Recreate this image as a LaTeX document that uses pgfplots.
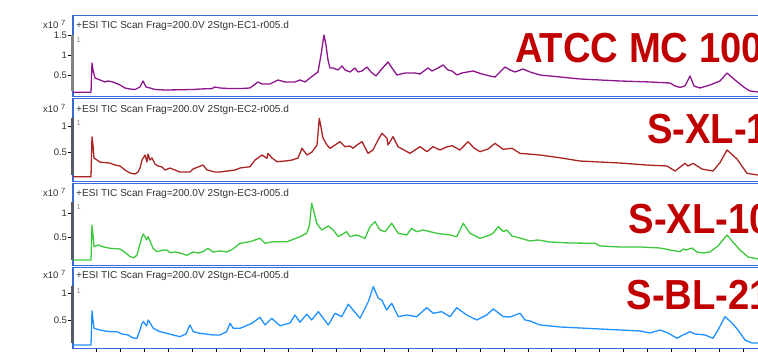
\documentclass[border=0pt]{standalone}
\usepackage{pgfplots}
\pgfplotsset{compat=1.18}
\usepackage{fontspec}
\setmainfont{Liberation Sans}
\usepackage{graphicx}
\definecolor{frameblue}{RGB}{55,105,215}
\definecolor{cpurple}{RGB}{140,20,140}
\definecolor{cred}{RGB}{170,35,35}
\definecolor{cgreen}{RGB}{60,200,60}
\definecolor{cblue}{RGB}{30,144,255}
\definecolor{labred}{RGB}{192,0,0}
\definecolor{txtgray}{RGB}{50,50,50}
\definecolor{barA}{RGB}{130,130,130}
\definecolor{barB}{RGB}{85,90,105}
\definecolor{onegray}{RGB}{140,140,140}
\pgfplotsset{panel/.style={
  scale only axis, width=727pt, xmin=73, xmax=800, clip=false,
  axis line style={frameblue, line width=1.5pt},
  tick style={black, line width=0.6pt}, tick align=outside, major tick length=5.5pt,
  ytick pos=left, xtick=\empty,
  /pgf/number format/assume math mode=true,
  yticklabel style={font=\fontsize{9.5}{10}\selectfont, text=txtgray, xshift=3pt},
  anchor=south west,
}}
\begin{document}
\begin{tikzpicture}
\useasboundingbox (0,0) rectangle (758pt,352pt);
\clip (0,0) rectangle (758pt,352pt);
% Panel 1
\begin{axis}[panel, at={(73pt,255.5pt)}, height=81pt, ymin=-0.0375, ymax=1.9875, ytick={0.5,1,1.5}]
\addplot[draw=barA, line width=2.6pt, forget plot] coordinates {(72.3,0.1) (72.3,1.5)};
\addplot[cpurple, line width=1.3pt, mark=none, line join=round] coordinates {
(73,0.068) (91,0.068) (92,0.80) (93,0.625) (95,0.425) (100,0.375) (105,0.325) (108,0.35) (113,0.325)
(120,0.25) (125,0.175) (130,0.15) (135,0.1375) (140,0.2) (143,0.35) (146,0.2) (150,0.175) (155,0.1375)
(165,0.125) (180,0.13) (195,0.14) (200,0.15) (212,0.16) (215,0.2) (220,0.175) (230,0.16) (240,0.16)
(250,0.175) (258,0.325) (262,0.275) (270,0.275) (278,0.375) (285,0.325) (295,0.325) (300,0.375)
(305,0.325) (310,0.425) (318,0.575) (321,1.0) (324,1.5) (326,1.25) (328,0.875) (330,0.675) (333,0.675)
(338,0.625) (342,0.725) (345,0.625) (350,0.575) (355,0.675) (358,0.575) (362,0.6) (367,0.7) (371,0.575)
(376,0.475) (380,0.6) (388,0.825) (392,0.675) (397,0.5) (405,0.55) (415,0.55) (420,0.525) (428,0.675)
(432,0.6) (438,0.675) (443,0.75) (448,0.625) (452,0.6) (457,0.5) (462,0.55) (473,0.6) (482,0.525)
(490,0.475) (495,0.45) (500,0.575) (505,0.7) (510,0.625) (515,0.575) (523,0.65) (530,0.575) (540,0.5)
(560,0.45) (580,0.4) (600,0.375) (620,0.35) (650,0.325) (670,0.3) (675,0.225) (680,0.19) (685,0.225)
(690,0.475) (694,0.225) (700,0.175) (710,0.25) (720,0.35) (727,0.55) (735,0.375) (745,0.175) (750,0.1) (758,0.075)};
\end{axis}
% Panel 2
\begin{axis}[panel, at={(73pt,170.5pt)}, height=83pt, ymin=-0.068, ymax=1.55, ytick={0.5,1}]
\addplot[draw=barB, line width=2.6pt, forget plot] coordinates {(72.3,0.06) (72.3,1.17)};
\addplot[cred, line width=1.3pt, mark=none, line join=round] coordinates {
(73,0.025) (91,0.025) (92,0.805) (93,0.643) (94,0.39) (97,0.35) (100,0.31) (110,0.29) (115,0.253)
(120,0.234) (125,0.156) (130,0.097) (135,0.078) (138,0.117) (140,0.195) (142,0.35) (145,0.448)
(147,0.312) (148,0.468) (150,0.35) (152,0.39) (155,0.273) (158,0.234) (162,0.214) (165,0.156)
(170,0.195) (175,0.156) (180,0.117) (190,0.117) (193,0.175) (203,0.253) (207,0.156) (215,0.117)
(220,0.117) (235,0.156) (240,0.195) (250,0.22) (255,0.35) (262,0.448) (267,0.384) (268,0.48)
(272,0.39) (277,0.318) (285,0.331) (292,0.35) (298,0.39) (302,0.579) (307,0.448) (312,0.507)
(317,0.643) (319.3,1.164) (323,0.78) (327,0.643) (330,0.579) (335,0.643) (340,0.708) (345,0.61)
(350,0.624) (353,0.579) (357,0.643) (362,0.708) (368,0.481) (373,0.546) (378,0.741) (382,0.871)
(387,0.774) (388,0.643) (393,0.805) (398,0.61) (404,0.546) (410,0.481) (415,0.546) (420,0.61)
(427,0.513) (433,0.61) (440,0.546) (446,0.60) (452,0.63) (460,0.546) (468,0.708) (474,0.585)
(480,0.513) (488,0.565) (495,0.676) (503,0.56) (512,0.58) (520,0.48) (528,0.468) (540,0.448)
(560,0.394) (580,0.331) (600,0.312) (620,0.292) (647,0.253) (667,0.234) (675,0.136) (685,0.286)
(688,0.234) (693,0.286) (702,0.175) (713,0.136) (720,0.3) (727,0.546) (737,0.37) (747,0.091) (758,0.058)};
\end{axis}
% Panel 3
\begin{axis}[panel, at={(73pt,86.5pt)}, height=82pt, ymin=-0.0875, ymax=1.621, ytick={0.5,1}]
\addplot[draw=barB, line width=2.6pt, forget plot] coordinates {(72.3,0.03) (72.3,1.24)};
\addplot[cgreen, line width=1.3pt, mark=none, line join=round] coordinates {
(73,0.027) (91,0.027) (92,0.756) (93,0.548) (94,0.304) (98,0.34) (104,0.298) (110,0.271) (120,0.256)
(126,0.173) (130,0.096) (134,0.075) (137,0.131) (140,0.36) (142,0.513) (143.5,0.569) (146.5,0.444)
(148,0.513) (150,0.423) (153,0.271) (157,0.2) (163,0.235) (167,0.235) (170,0.179) (175,0.194)
(180,0.173) (187,0.125) (193,0.194) (198,0.173) (203,0.2) (208,0.271) (213,0.194) (220,0.215)
(227,0.194) (233,0.256) (240,0.375) (250,0.408) (260,0.479) (265,0.375) (273,0.408) (287,0.408)
(300,0.513) (306.7,0.583) (309.5,0.756) (311.7,1.208) (314,1.027) (316.7,0.792) (321.7,0.652)
(328.3,0.735) (333.3,0.652) (338.3,0.513) (346.7,0.617) (350,0.513) (356.7,0.548) (365,0.479)
(370,0.721) (375,0.825) (380,0.652) (385,0.617) (391.7,0.792) (398.3,0.583) (406.7,0.548)
(411.7,0.688) (416.7,0.617) (423.3,0.652) (436.7,0.583) (450,0.548) (456.7,0.513) (463.3,0.792)
(470,0.583) (480,0.479) (490,0.548) (493,0.583) (498.3,0.721) (503.3,0.617) (506.7,0.652)
(512,0.527) (520,0.485) (530,0.423) (538,0.444) (550,0.402) (570,0.381) (595,0.375) (600,0.319)
(620,0.298) (640,0.298) (660,0.277) (670,0.235) (680,0.2) (683,0.256) (686,0.235) (692,0.277)
(697,0.194) (703,0.173) (710,0.194) (718,0.319) (727,0.548) (732,0.423) (740,0.235) (748,0.09) (758,0.048)};
\end{axis}
% Panel 4
\begin{axis}[panel, at={(73pt,3.5pt)}, height=81pt, ymin=-0.038, ymax=1.49, ytick={0.5,1},
  xtick={96.7,120.65,...,800}, xtick pos=bottom, xticklabels={}]
\addplot[draw=barB, line width=2.6pt, forget plot] coordinates {(72.3,0.07) (72.3,1.14)};
\addplot[cblue, line width=1.3pt, mark=none, line join=round] coordinates {
(73,0.028) (91,0.028) (92,0.675) (93,0.5) (94,0.343) (100,0.311) (105,0.292) (110,0.279) (117,0.279)
(122,0.236) (128,0.217) (133,0.16) (137,0.155) (140,0.311) (142,0.438) (143.5,0.468) (146.5,0.387)
(148.3,0.5) (153.3,0.343) (160,0.279) (167,0.249) (173,0.217) (180,0.185) (186,0.236) (188.3,0.343)
(190,0.406) (193.3,0.279) (200,0.249) (213,0.217) (220,0.217) (226.7,0.279) (230,0.438) (233.3,0.343)
(240,0.343) (248,0.406) (252,0.438) (260,0.551) (265,0.406) (271.7,0.532) (280,0.392) (290,0.443)
(295,0.594) (300,0.457) (306.7,0.608) (311.7,0.5) (318.3,0.657) (328.3,0.406) (335,0.626)
(341.7,0.562) (348.3,0.796) (360,0.532) (368.3,0.845) (373.3,1.128) (378.3,0.909) (381.7,0.877)
(386.7,0.689) (391.7,0.815) (398.3,0.562) (406.7,0.594) (416.7,0.562) (426.7,0.732) (433.3,0.626)
(441.7,0.657) (450,0.562) (456.7,0.732) (466.7,0.594) (476.7,0.5) (486.7,0.594) (493.3,0.708)
(503.3,0.562) (510,0.557) (520,0.626) (525,0.5) (530,0.481) (540,0.406) (550,0.387) (560,0.368)
(580,0.349) (600,0.33) (620,0.311) (640,0.292) (650,0.255) (660,0.311) (668,0.255) (677,0.155)
(683,0.217) (690,0.279) (695,0.236) (705,0.217) (713,0.155) (718,0.311) (725,0.562) (732,0.443)
(738,0.311) (745,0.123) (752,0.066) (758,0.066)};
\end{axis}
% texts
\foreach \yb/\ec in {323.7/1, 239.7/2, 155.7/3, 73/4} {
  \node[anchor=base west, inner sep=0, text=txtgray, font=\fontsize{10.1}{11}\selectfont] at (76pt,\yb pt) {+ESI TIC Scan Frag=200.0V 2Stgn-EC\ec-r005.d};
  \node[anchor=base west, inner sep=0, text=txtgray, font=\fontsize{9.5}{10}\selectfont] at (43pt,\yb pt) {x10\hspace{2.5pt}\raisebox{3pt}{\fontsize{7.5}{8}\selectfont 7}};
}
\foreach \yt in {315.3, 232, 148, 64} {
  \node[anchor=north west, inner sep=0, text=onegray, font=\fontsize{7.5}{8}\selectfont] at (76.5pt,\yt pt) {1};
}
\node[anchor=base west, inner sep=0, text=labred] at (515pt,289pt) {\scalebox{0.91}[1]{\fontsize{42}{42}\selectfont\bfseries ATCC MC 1000}};
\node[anchor=base west, inner sep=0, text=labred] at (647pt,208.7pt) {\scalebox{0.91}[1]{\fontsize{42}{42}\selectfont\bfseries S-XL-1}};
\node[anchor=base west, inner sep=0, text=labred] at (628.5pt,118.7pt) {\scalebox{0.91}[1]{\fontsize{42}{42}\selectfont\bfseries S-XL-10}};
\node[anchor=base west, inner sep=0, text=labred] at (626.5pt,42pt) {\scalebox{0.91}[1]{\fontsize{42}{42}\selectfont\bfseries S-BL-21}};
\end{tikzpicture}
\end{document}
